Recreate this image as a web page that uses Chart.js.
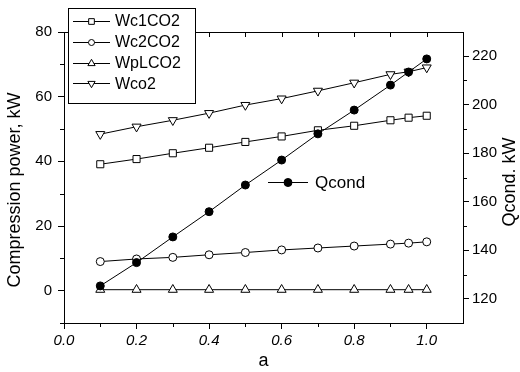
<!DOCTYPE html>
<html>
<head>
<meta charset="utf-8">
<script src="https://cdn.jsdelivr.net/npm/chart.js@4.4.0/dist/chart.umd.min.js"></script>
<style>
  html, body { margin: 0; padding: 0; background: #fff; }
  #wrap { width: 520px; height: 372px; position: relative; }
</style>
</head>
<body>
<div id="wrap"><canvas id="chart"></canvas></div>
<script>
"use strict";

// values
var aValues = [0.1, 0.2, 0.3, 0.4, 0.5, 0.6, 0.7, 0.8, 0.9, 0.95, 1.0];
var wc1co2 = [39.1, 40.7, 42.5, 44.2, 46.0, 47.7, 49.6, 51.0, 52.7, 53.5, 54.1];
var wc2co2 = [9.0, 9.8, 10.3, 11.1, 11.8, 12.6, 13.2, 13.8, 14.4, 14.7, 15.1];
var wplco2 = [0.3, 0.3, 0.3, 0.3, 0.3, 0.3, 0.3, 0.3, 0.3, 0.3, 0.3];
var wco2 = [48.4, 50.7, 52.7, 54.9, 57.4, 59.4, 61.8, 64.3, 66.9, 67.7, 69.0];
var qcond = [125.3, 134.9, 145.5, 155.9, 166.9, 177.2, 188.0, 197.8, 208.1, 213.5, 218.9];

var xTicks = [0.0, 0.2, 0.4, 0.6, 0.8, 1.0];
var xMinorTicks = [0.1, 0.3, 0.5, 0.7, 0.9];
var leftTicks = [0, 20, 40, 60, 80];
var leftMinorTicks = [-10, 10, 30, 50, 70];
var rightTicks = [120, 140, 160, 180, 200, 220];
var rightMinorTicks = [130, 150, 170, 190, 210];

var leftTitle = 'Compression power, kW';
var rightTitle = 'Qcond. kW';

var FONT = "'Liberation Sans', Arial, sans-serif";

function toPoints(ys) {
    return aValues.map(function (x, i) {
        return { x: x, y: ys[i] };
    });
}

function series(label, ys, style, rotation, fill, axis, order) {
    return {
        label: label,
        data: toPoints(ys),
        yAxisID: axis,
        showLine: true,
        borderColor: '#000',
        borderWidth: 1,
        pointStyle: style,
        pointRotation: rotation,
        pointRadius: style === 'rect' ? 5 : (style === 'triangle' ? 5.2 : 4),
        pointBorderWidth: 1,
        pointBorderColor: '#000',
        pointBackgroundColor: fill,
        order: order
    };
}

function fixTicks(list) {
    return function (scale) {
        scale.ticks = list.map(function (v) { return { value: v }; });
    };
}

function verticalText(ctx, text, x, y) {
    ctx.save();
    ctx.translate(x, y);
    ctx.rotate(-Math.PI / 2);
    ctx.font = '18px ' + FONT;
    ctx.textAlign = 'center';
    ctx.textBaseline = 'middle';
    ctx.fillText(text, 0, 0);
    ctx.restore();
}

// frame, minor ticks, axis titles and the two legends
var decorPlugin = {
    id: 'decor',
    afterDraw: function (chart) {
        var ctx = chart.ctx;
        var area = chart.chartArea;
        var xs = chart.scales.x, yl = chart.scales.y, yr = chart.scales.y2;
        var H = Chart.helpers;
        ctx.save();
        ctx.strokeStyle = '#000';
        ctx.fillStyle = '#000';
        ctx.lineWidth = 1;

        ctx.beginPath();
        // top frame line
        ctx.moveTo(area.left, area.top + 0.5);
        ctx.lineTo(area.right, area.top + 0.5);
        // top inward ticks
        xTicks.concat(xMinorTicks).forEach(function (v) {
            var px = Math.round(xs.getPixelForValue(v)) + 0.5;
            ctx.moveTo(px, area.top);
            ctx.lineTo(px, area.top + 5);
        });
        // minor ticks outside
        xMinorTicks.forEach(function (v) {
            var px = Math.round(xs.getPixelForValue(v)) + 0.5;
            ctx.moveTo(px, area.bottom);
            ctx.lineTo(px, area.bottom + 4);
        });
        leftMinorTicks.forEach(function (v) {
            var py = Math.round(yl.getPixelForValue(v)) + 0.5;
            ctx.moveTo(area.left - 4, py);
            ctx.lineTo(area.left, py);
        });
        rightMinorTicks.forEach(function (v) {
            var py = Math.round(yr.getPixelForValue(v)) + 0.5;
            ctx.moveTo(area.right, py);
            ctx.lineTo(area.right + 4, py);
        });
        ctx.stroke();

        // y titles, both reading bottom to top
        verticalText(ctx, leftTitle, 15, 190);
        verticalText(ctx, rightTitle, 510, 182);

        // boxed legend for the left-axis series
        var ds = chart.data.datasets;
        ctx.fillStyle = '#fff';
        ctx.fillRect(68.5, 8.5, 127, 95);
        ctx.strokeRect(68.5, 8.5, 127, 95);
        ctx.font = '16px ' + FONT;
        ctx.textAlign = 'left';
        ctx.textBaseline = 'middle';
        for (var i = 0; i < 4; i++) {
            var d = ds[i];
            var y = 21 + i * 20.8;
            ctx.beginPath();
            ctx.moveTo(73, Math.round(y) + 0.5);
            ctx.lineTo(110, Math.round(y) + 0.5);
            ctx.stroke();
            ctx.fillStyle = '#fff';
            H.drawPoint(ctx, { pointStyle: d.pointStyle, radius: d.pointRadius - 1, rotation: d.pointRotation, borderWidth: 1 }, 91.5, Math.round(y) + 0.5);
            ctx.fillStyle = '#000';
            ctx.fillText(d.label, 115, y + 1);
        }

        // free-standing Qcond legend
        var q = ds[4];
        ctx.beginPath();
        ctx.moveTo(268, 182.5);
        ctx.lineTo(308, 182.5);
        ctx.stroke();
        ctx.fillStyle = '#000';
        H.drawPoint(ctx, { pointStyle: 'circle', radius: 4, borderWidth: 1 }, 288, 182.5);
        ctx.font = '17px ' + FONT;
        ctx.fillText(q.label, 315, 183);
        ctx.restore();
    }
};

Chart.defaults.font.family = FONT;
Chart.defaults.color = '#000';

new Chart(document.getElementById('chart'), {
    type: 'scatter',
    data: {
        datasets: [
            series('Wc1CO2', wc1co2, 'rect', 0, '#fff', 'y', 2),
            series('Wc2CO2', wc2co2, 'circle', 0, '#fff', 'y', 2),
            series('WpLCO2', wplco2, 'triangle', 0, '#fff', 'y', 2),
            series('Wco2', wco2, 'triangle', 180, '#fff', 'y', 2),
            series('Qcond', qcond, 'circle', 0, '#000', 'y2', 1)
        ]
    },
    options: {
        responsive: true,
        maintainAspectRatio: false,
        animation: false,
        layout: { padding: { top: 32, left: 0, right: 0, bottom: 0 } },
        plugins: {
            legend: { display: false },
            tooltip: { enabled: false }
        },
        scales: {
            x: {
                type: 'linear',
                position: 'bottom',
                min: 0,
                max: 1.1,
                afterBuildTicks: fixTicks(xTicks),
                afterFit: function (scale) { scale.height = 49; },
                border: { display: true, color: '#000', width: 1 },
                grid: { drawOnChartArea: false, drawTicks: true, tickLength: 6, color: '#000' },
                ticks: {
                    padding: 3,
                    maxRotation: 0,
                    font: { size: 15, style: 'italic' },
                    callback: function (v) { return Number(v).toFixed(1); }
                },
                title: { display: true, text: 'a', font: { size: 18 }, padding: { top: 0, bottom: 0 } }
            },
            y: {
                type: 'linear',
                position: 'left',
                min: -10,
                max: 80,
                afterBuildTicks: fixTicks(leftTicks),
                afterFit: function (scale) { scale.width = 64; },
                border: { display: true, color: '#000', width: 1 },
                grid: { drawOnChartArea: false, drawTicks: true, tickLength: 6, color: '#000' },
                ticks: { padding: 6, font: { size: 15 } }
            },
            y2: {
                type: 'linear',
                position: 'right',
                min: 110,
                max: 230,
                afterBuildTicks: fixTicks(rightTicks),
                afterFit: function (scale) { scale.width = 57; },
                border: { display: true, color: '#000', width: 1 },
                grid: { drawOnChartArea: false, drawTicks: true, tickLength: 6, color: '#000' },
                ticks: { padding: 3, font: { size: 15 } }
            }
        }
    },
    plugins: [decorPlugin]
});
</script>
</body>
</html>
